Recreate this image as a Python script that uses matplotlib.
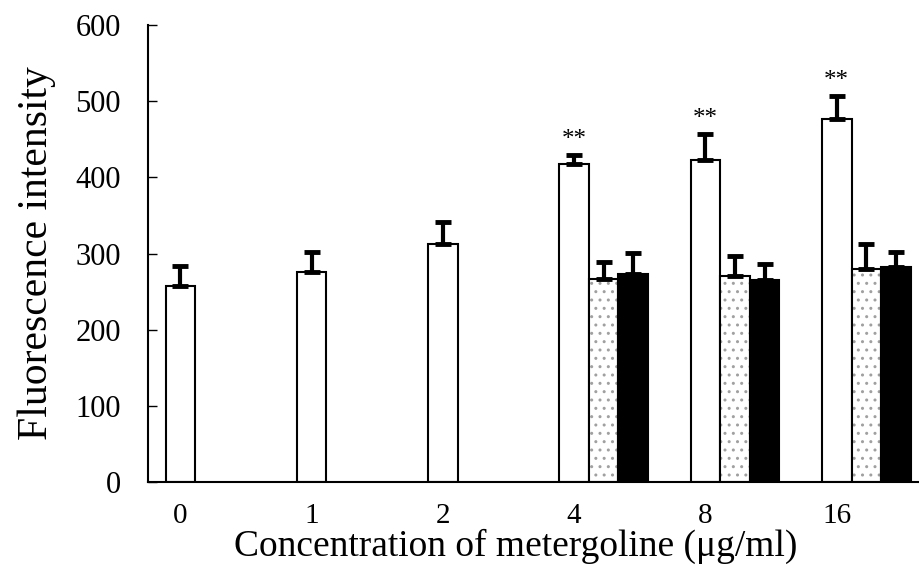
import numpy as np
import matplotlib
matplotlib.use("Agg")
import matplotlib.pyplot as plt

# data
concentrations = ["0", "1", "2", "4", "8", "16"]
control = [258, 276, 312, 417, 423, 477]
control_err = [26, 26, 30, 13, 34, 30]
# second and third treatment only at 4, 8, 16
treat_labels = ["4", "8", "16"]
stippled = [267, 270, 280]
stippled_err = [22, 27, 32]
black = [273, 265, 282]
black_err = [28, 22, 20]
signif = ["**", "**", "**"]

plt.rcParams['font.family'] = ['Liberation Serif', 'DejaVu Serif']

fig = plt.figure(figsize=(9.2, 5.68), dpi=100)
ax = fig.add_axes([0.161, 0.151, 0.837, 0.805])

w = 0.225
x = np.arange(len(concentrations))
xt = np.array([concentrations.index(c) for c in treat_labels])

err_kw = dict(fmt="none", ecolor="black", elinewidth=3, capsize=6, capthick=3.5)

ax.bar(x, control, w, color="white", edgecolor="black", linewidth=1.5, zorder=2)
ax.errorbar(x, control, yerr=[np.zeros(len(control)), control_err], **err_kw)

# stippled bars: gray dots then black outline
ax.bar(xt + w, stippled, w, color="white", edgecolor="#a0a0a0", hatch="..", linewidth=0, zorder=2)
ax.bar(xt + w, stippled, w, fill=False, edgecolor="black", linewidth=1.5, zorder=3)
ax.errorbar(xt + w, stippled, yerr=[np.zeros(3), stippled_err], **err_kw)

ax.bar(xt + 2 * w, black, w, color="black", edgecolor="black", linewidth=1.5, zorder=2)
ax.errorbar(xt + 2 * w, black, yerr=[np.zeros(3), black_err], **err_kw)

for i, s in zip(xt, signif):
    top = control[i] + control_err[i]
    ax.text(i, top + 5, s, ha="center", va="bottom", fontsize=18)

ax.set_xlim(-0.245, 5.62)
ax.set_ylim(0, 600)
ax.set_yticks(range(0, 601, 100))
ax.set_xticks(x)
ax.set_xticklabels(concentrations)
ax.tick_params(axis="y", direction="in", length=6.5, width=1, labelsize=22, pad=19.5)
ax.tick_params(axis="x", length=0, labelsize=21, pad=15)
for side in ["top", "right"]:
    ax.spines[side].set_visible(False)
for side in ["left", "bottom"]:
    ax.spines[side].set_linewidth(1.5)

ax.set_ylabel("Fluorescence intensity", fontsize=30, labelpad=14)
ax.set_xlabel("Concentration of metergoline (\u03bcg/ml)", fontsize=27)
ax.xaxis.set_label_coords(0.477, -0.102)

fig.savefig("out.png", dpi=100)
